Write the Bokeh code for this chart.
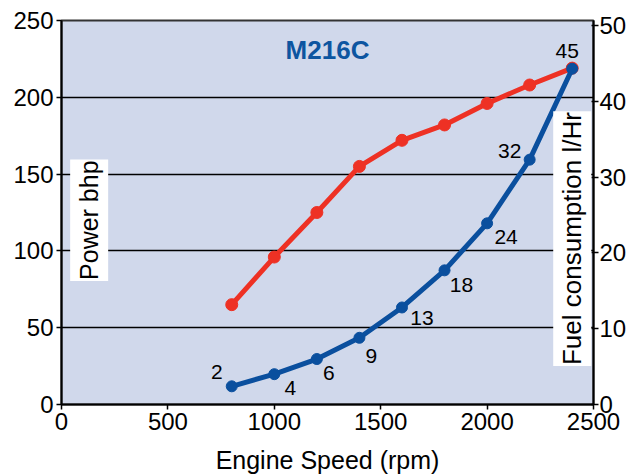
import math
from bokeh.plotting import figure
from bokeh.models import (ColumnDataSource, Range1d, LinearAxis, SingleIntervalTicker, Label)
from bokeh.core.properties import value
from bokeh.embed import file_html
from bokeh.resources import INLINE

# ---- data ----
rpm = [800, 1000, 1200, 1400, 1600, 1800, 2000, 2200, 2400]
power_bhp = [65, 96, 125, 155, 172, 182, 196, 208, 219]
fuel_lhr = [2.4, 4, 6, 8.8, 12.8, 17.7, 23.9, 32.3, 44.3]
fuel_labels = ["2", "4", "6", "9", "13", "18", "24", "32", "45"]

# label offsets (screen px, style only)
lab_dx = [-15, 16, 12, 12, 20, 17, 19, -20, -5]
lab_dy = [-14, 14, 14, 18, 11, 15, 14, -9, -18]

FONT = "Liberation Sans"
RED = "#EE3124"
BLUE = "#0A4F9E"
BG = "#D0D8EB"

p = figure(width=629, height=476, output_backend="svg", toolbar_location=None,
           x_range=Range1d(0, 2500), y_range=Range1d(0, 250),
           min_border_left=61, min_border_top=20, min_border_right=10, min_border_bottom=10)
p.background_fill_color = BG
p.border_fill_color = "white"
p.outline_line_color = "#333333"
p.outline_line_width = 2

p.extra_y_ranges = {"fuel": Range1d(0, 50.66)}

# axes
p.xaxis.ticker = SingleIntervalTicker(interval=500)
p.yaxis.ticker = SingleIntervalTicker(interval=50)
for ax in (p.xaxis[0], p.yaxis[0]):
    ax.major_label_text_font = FONT
    ax.major_label_text_font_size = "24px"
    ax.major_label_text_color = "black"
    ax.axis_line_color = "black"
    ax.axis_line_width = 2
    ax.major_tick_line_color = "black"
    ax.major_tick_line_width = 1.5
    ax.major_tick_in = 0
    ax.major_tick_out = 5
    ax.minor_tick_line_color = None
    ax.major_label_standoff = 3
p.xaxis.axis_label = "Engine Speed (rpm)"
p.xaxis.axis_label_text_font = FONT
p.xaxis.axis_label_text_font_size = "25px"
p.xaxis.axis_label_text_font_style = "normal"
p.xaxis.axis_label_text_color = "black"
p.xaxis.axis_label_standoff = 13

rax = LinearAxis(y_range_name="fuel", ticker=SingleIntervalTicker(interval=10))
rax.major_label_text_font = FONT
rax.major_label_text_font_size = "24px"
rax.major_label_text_color = "black"
rax.axis_line_color = "black"
rax.axis_line_width = 2
rax.major_tick_line_color = "black"
rax.major_tick_line_width = 1.5
rax.major_tick_in = 2
rax.major_tick_out = 5
rax.minor_tick_line_color = None
rax.major_label_standoff = 1
p.add_layout(rax, "right")

# grid
p.xgrid.visible = False
p.ygrid.ticker = SingleIntervalTicker(interval=50)
p.ygrid.grid_line_color = "black"
p.ygrid.grid_line_width = 1.3

# series
p.line(rpm, power_bhp, line_color=RED, line_width=5, line_join="round")
p.scatter(rpm, power_bhp, size=12, fill_color=RED, line_color=RED)

src = ColumnDataSource(dict(x=rpm, y=fuel_lhr, t=fuel_labels, dx=lab_dx, dy=lab_dy))
p.line("x", "y", source=src, y_range_name="fuel", line_color=BLUE, line_width=5, line_join="round")
p.scatter("x", "y", source=src, y_range_name="fuel", size=11, fill_color=BLUE, line_color=BLUE)
p.text("x", "y", text="t", source=src, y_range_name="fuel", x_offset="dx", y_offset="dy",
       text_align="center", text_baseline="middle", text_font=value(FONT),
       text_font_size="21px", text_color="black")

# title and axis labels inside
p.add_layout(Label(x=1250, y=231, text="M216C", text_font=FONT, text_font_size="26px",
                   text_font_style="bold", text_color="#0D55A0",
                   text_align="center", text_baseline="middle"))
p.add_layout(Label(x=130, y=120, text="Power bhp", angle=math.pi / 2, text_font=FONT,
                   text_font_size="25px", text_color="black",
                   text_align="center", text_baseline="middle",
                   background_fill_color="white", padding=(1, 5)))
p.add_layout(Label(x=2400, y=108, text="Fuel consumption l/Hr", angle=math.pi / 2,
                   text_font=FONT, text_font_size="26px", text_color="black",
                   text_align="center", text_baseline="middle",
                   background_fill_color="white", padding=(1, 4)))

open("out.html", "w").write(file_html(p, INLINE))
